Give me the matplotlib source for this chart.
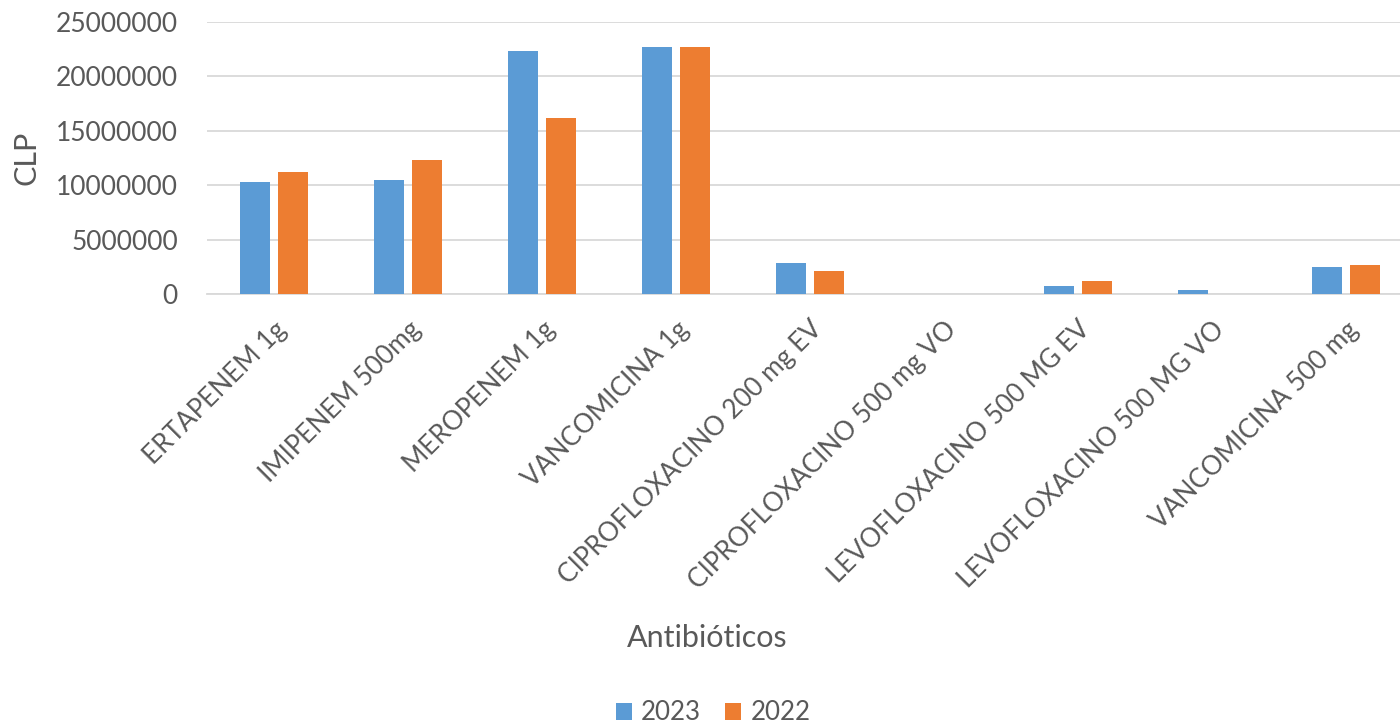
#!/usr/bin/env python3
"""Antibiotic spending (CLP) per product, 2023 vs 2022."""

import matplotlib
matplotlib.use("Agg")
import matplotlib.pyplot as plt
import numpy as np

categories = [
    "ERTAPENEM 1g",
    "IMIPENEM 500mg",
    "MEROPENEM 1g",
    "VANCOMICINA 1g",
    "CIPROFLOXACINO 200 mg EV",
    "CIPROFLOXACINO 500 mg VO",
    "LEVOFLOXACINO 500 MG EV",
    "LEVOFLOXACINO 500 MG VO",
    "VANCOMICINA 500 mg",
]
values_2023 = [10340000, 10520000, 22300000, 22660000, 2840000, 0, 780000, 410000, 2470000]
values_2022 = [11250000, 12350000, 16200000, 22660000, 2090000, 0, 1160000, 0, 2690000]
yticks = [0, 5000000, 10000000, 15000000, 20000000, 25000000]

BLUE = "#5B9BD5"
ORANGE = "#ED7D31"
TEXT = "#595959"
GRID = "#D9D9D9"

plt.rcParams["font.family"] = ["Lato", "DejaVu Sans"]

fig = plt.figure(figsize=(14, 7.27), dpi=100)
ax = fig.add_axes([207 / 1400, 1 - 294 / 727, 1206 / 1400, 272 / 727])

x = np.arange(len(categories))
width = 0.224
offset = 0.142
ax.bar(x - offset, values_2023, width, color=BLUE, label="2023", zorder=3)
ax.bar(x + offset, values_2022, width, color=ORANGE, label="2022", zorder=3)

ax.set_xlim(-0.5, len(categories) - 0.5)
ax.set_ylim(0, 25000000)
ax.set_yticks(yticks)
ax.set_yticklabels([str(v) for v in yticks])
ax.yaxis.grid(True, color=GRID, linewidth=1.3, zorder=0)
ax.set_axisbelow(True)

for side in ("top", "right", "left"):
    ax.spines[side].set_visible(False)
ax.spines["bottom"].set_color(GRID)
ax.spines["bottom"].set_linewidth(1.3)

ax.tick_params(axis="y", length=0, pad=21, labelsize=19, labelcolor=TEXT)
ax.tick_params(axis="x", length=0)
ax.set_xticks(x)
ax.set_xticklabels(
    categories,
    rotation=45,
    ha="right",
    va="top",
    rotation_mode="anchor",
    fontsize=18.8,
    color=TEXT,
)
for lbl in ax.get_xticklabels():
    lbl.set_y(-0.065)

ax.set_ylabel("CLP", fontsize=22, color=TEXT)
ax.yaxis.set_label_coords(-(207 - 41) / 1206, (294 - 158) / 272)

fig.text(707 / 1400, 1 - 638 / 727, "Antibióticos", fontsize=22,
         color=TEXT, ha="center", va="center")

fig.legend(
    loc="center",
    bbox_to_anchor=(713 / 1400, 1 - 713 / 727),
    ncol=2,
    frameon=False,
    fontsize=18.6,
    labelcolor=TEXT,
    handlelength=0.62,
    handleheight=0.62,
    handletextpad=0.35,
    columnspacing=0.95,
)

fig.savefig("out.png", dpi=100)
